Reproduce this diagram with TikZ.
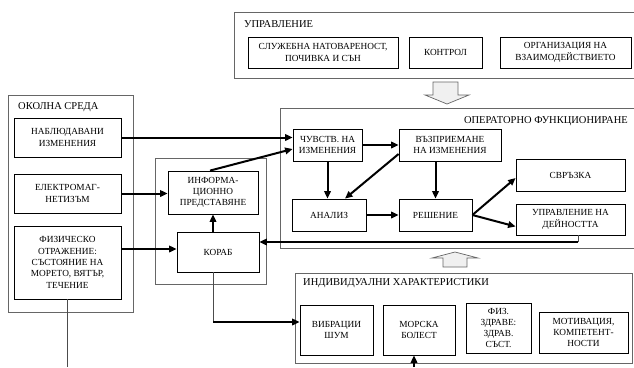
\documentclass[tikz,border=0pt]{standalone}
\usepackage{fontspec}
\setmainfont{Liberation Serif}
\usetikzlibrary{arrows.meta}

\tikzset{
  blok/.style={draw, line width=0.8pt, align=center, inner sep=1pt,
    font=\fontsize{9.3}{11.3}\selectfont},
  grupa/.style={draw=black!60, line width=0.8pt},
  naslov/.style={inner sep=0pt, font=\fontsize{10.5}{12}\selectfont},
  tok/.style={line width=2pt, -{Triangle[length=7.5pt,width=6.5pt]}},
  vrska/.style={draw=black!70, line width=0.8pt},
  kuha/.style={draw=black!60, fill=gray!12, line width=0.7pt},
}

\begin{document}
\begin{tikzpicture}[x=1pt,y=-1pt]
\useasboundingbox (0,0) rectangle (634,367);

% frames
\draw[grupa] (634,12) -| (234,78) -- (634,78);
\draw[grupa] (634,108) -| (280,248) -- (634,248);
\draw[grupa] (8,95) rectangle (133,312);
\draw[grupa] (155,158) rectangle (266,284);
\draw[grupa] (295,273) rectangle (632,363);

\node[naslov, anchor=west] (tupr) at (244,24) {УПРАВЛЕНИЕ};
\node[naslov, anchor=east] (topf) at (628,121) {ОПЕРАТОРНО ФУНКЦИОНИРАНЕ};
\node[naslov, anchor=west] (tokl) at (18,107) {ОКОЛНА СРЕДА};
\node[naslov, anchor=west] (tind) at (303,283) {ИНДИВИДУАЛНИ ХАРАКТЕРИСТИКИ};

% hollow arrows
\draw[kuha] (433,82) -- (458,82) -- (458,95) -- (469,95) -- (447,104) -- (425,95) -- (433,95) -- cycle;
\draw[kuha] (443,267) -- (443,258) -- (432,258) -- (455,252) -- (478,258) -- (467,258) -- (467,267) -- cycle;

% upravlenie
\node[blok, minimum width=150pt, minimum height=31pt] (sluz) at (323,52.5) {СЛУЖЕБНА НАТОВАРЕНОСТ,\\ПОЧИВКА И СЪН};
\node[blok, minimum width=73pt, minimum height=31pt] (kont) at (445.5,52.5) {КОНТРОЛ};
\node[blok, minimum width=131pt, minimum height=31pt] (orga) at (565.5,52.5) {ОРГАНИЗАЦИЯ НА\\ВЗАИМОДЕЙСТВИЕТО};

% okolna sreda
\node[blok, minimum width=107pt, minimum height=39pt] (nabl) at (67.5,137.5) {НАБЛЮДАВАНИ\\ИЗМЕНЕНИЯ};
\node[blok, minimum width=107pt, minimum height=39pt] (elek) at (67.5,193.5) {ЕЛЕКТРОМАГ-\\НЕТИЗЪМ};
\node[blok, minimum width=107pt, minimum height=73pt] (fizo) at (67.5,262.5) {ФИЗИЧЕСКО\\ОТРАЖЕНИЕ:\\СЪСТОЯНИЕ НА\\МОРЕТО, ВЯТЪР,\\ТЕЧЕНИЕ};

% korab
\node[blok, minimum width=90pt, minimum height=43pt] (info) at (213,192.5) {ИНФОРМА-\\ЦИОННО\\ПРЕДСТАВЯНЕ};
\node[blok, minimum width=82pt, minimum height=40pt] (kora) at (218,252) {КОРАБ};

% operatorno funkcionirane
\node[blok, minimum width=69pt, minimum height=32pt] (chuv) at (327.5,145) {ЧУВСТВ. НА\\ИЗМЕНЕНИЯ};
\node[blok, minimum width=102pt, minimum height=32pt] (vazp) at (450,145) {ВЪЗПРИЕМАНЕ\\НА ИЗМЕНЕНИЯ};
\node[blok, minimum width=74pt, minimum height=32pt] (anal) at (329,215) {АНАЛИЗ};
\node[blok, minimum width=73pt, minimum height=32pt] (resh) at (435.5,215) {РЕШЕНИЕ};
\node[blok, minimum width=109pt, minimum height=32pt] (svrz) at (570.5,175) {СВРЪЗКА};
\node[blok, minimum width=109pt, minimum height=31pt] (upra) at (570.5,219.5) {УПРАВЛЕНИЕ НА\\ДЕЙНОСТТА};

% individualni harakteristiki
\node[blok, minimum width=73pt, minimum height=50pt] (vibr) at (336.5,330) {ВИБРАЦИИ\\ШУМ};
\node[blok, minimum width=72pt, minimum height=50pt] (mors) at (419,330) {МОРСКА\\БОЛЕСТ};
\node[blok, minimum width=65pt, minimum height=50pt] (fizz) at (498.5,328) {ФИЗ.\\ЗДРАВЕ:\\ЗДРАВ.\\СЪСТ.};
\node[blok, minimum width=89pt, minimum height=41pt] (moti) at (583.5,332.5) {МОТИВАЦИЯ,\\КОМПЕТЕНТ-\\НОСТИ};

\coordinate (kdol) at (213,322);
\coordinate (obr) at (578,242);
\coordinate (mdol) at (414,367);
\coordinate (fdol) at (67,367);

% connectors
\draw[tok] (nabl.east) -- (nabl.east -| chuv.west);
\draw[tok] ([xshift=-3pt]info.north) -- ([yshift=-4pt]chuv.west);
\draw[tok] (elek.east) -- (elek.east -| info.west);
\draw[tok] ([yshift=3pt]fizo.east |- kora.west) -- ([yshift=3pt]kora.west);
\draw[tok] (kora.north -| info.south) -- (info.south);
\draw[vrska] (kora.south -| kdol) -- (kdol);
\draw[tok] (kdol) -- (kdol -| vibr.west);
\draw[vrska] (upra.south -| obr) -- (obr);
\draw[tok] (obr) -- (obr -| kora.east);

\draw[tok] (chuv.east) -- (chuv.east -| vazp.west);
\draw[tok] (chuv.south) -- (chuv.south |- anal.north);
\draw[tok] ([yshift=-9pt]vazp.west) -- ([xshift=16pt]anal.north);
\draw[tok] (resh.north |- vazp.south) -- (resh.north);
\draw[tok] (anal.east) -- (resh.west);
\draw[tok] (resh.east) -- ([yshift=-3pt]svrz.west);
\draw[tok] (resh.east) -- ([yshift=-7pt]upra.west);

\draw[tok] (mdol) -- (mdol |- mors.south);
\draw[vrska] (fizo.south -| fdol) -- (fdol);

\end{tikzpicture}
\end{document}
